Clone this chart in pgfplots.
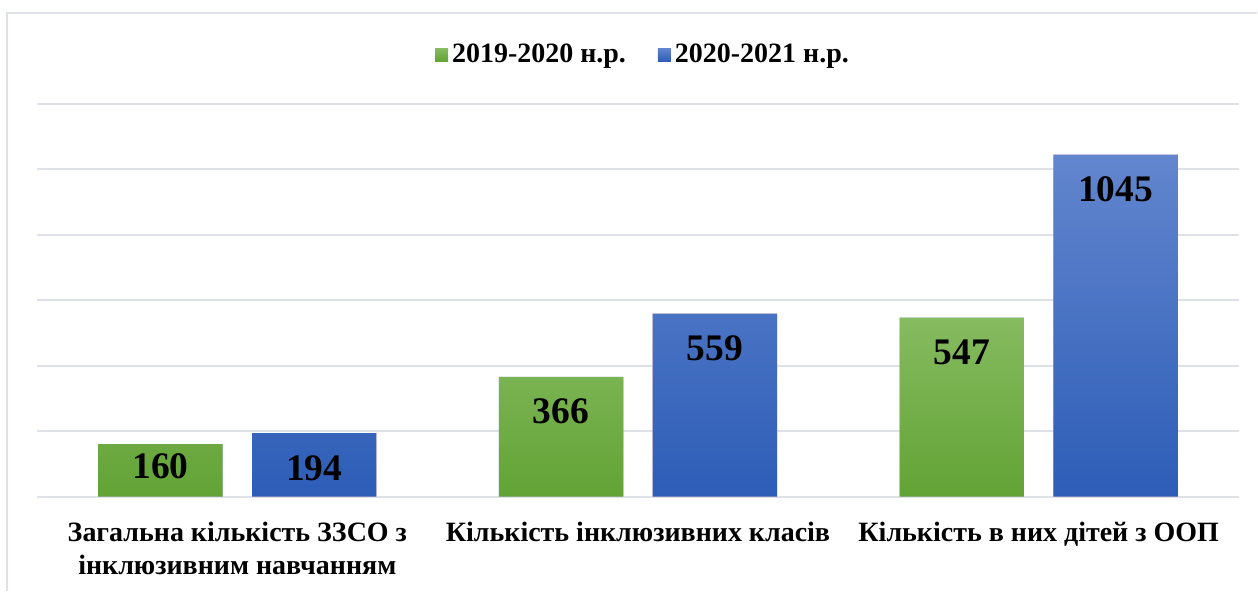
\documentclass[border=0pt]{standalone}
\usepackage{pgfplots}
\pgfplotsset{compat=1.18}
\usepackage{fontspec}
\setmainfont{Liberation Serif}

\definecolor{gtop}{RGB}{134,187,96}
\definecolor{gbot}{RGB}{98,163,53}
\definecolor{btop}{RGB}{98,134,206}
\definecolor{bbot}{RGB}{45,93,183}
\definecolor{gridc}{RGB}{222,226,232}

\begin{document}
\begin{tikzpicture}
\begin{axis}[
  scale only axis, width=601.5pt, height=196.5pt, clip=false,
  ybar, bar width=62.25pt,
  xmin=-0.5, xmax=2.5, ymin=0, ymax=1200,
  xtick={0,1,2},
  xticklabels={{Загальна кількість ЗЗСО з\\інклюзивним навчанням},
               {Кількість інклюзивних класів},
               {Кількість в них дітей з ООП}},
  xticklabel style={font=\bfseries\fontsize{14}{16.5}\selectfont,
                     align=center, yshift=-5pt},
  ytick={0,200,...,1200}, yticklabels={},
  ymajorgrids, major grid style={gridc, line width=1pt},
  axis line style={draw=none}, tick style={draw=none},
  nodes near coords,
  every node near coord/.append style={anchor=center, yshift=-17.5pt,
     font=\bfseries\fontsize{18.75}{20}\selectfont, text=black,
     /pgf/number format/1000 sep={}, /pgf/number format/assume math mode=true},
  legend style={at={(0.5,1)}, anchor=south, yshift=15pt, xshift=3pt,
     draw=none, fill=none, legend columns=2,
     font=\bfseries\fontsize{14}{16}\selectfont,
     /tikz/every even column/.append style={column sep=14pt}},
  legend image code/.code={\fill[#1] (0pt,-3.25pt) rectangle (6.5pt,3.25pt);},
]
\addplot+[bar shift=-38.5pt, draw=none, top color=gtop, bottom color=gbot,
  coordinate style/.condition={y<170}{yshift=6.5pt}]
  coordinates {(0,160) (1,366) (2,547)};
\addlegendentry{2019-2020 н.р.}
\addplot+[bar shift=38.5pt, draw=none, top color=btop, bottom color=bbot]
  coordinates {(0,194) (1,559) (2,1045)};
\addlegendentry{2020-2021 н.р.}
\draw[gridc, line width=1pt] (rel axis cs:-0.0249,-0.2417) -- (rel axis cs:-0.0249,1.2316)
  -- (rel axis cs:1.015,1.2316);
\path (rel axis cs:-0.0308,-0.2417) (rel axis cs:1.015,1.2646);
\end{axis}
\end{tikzpicture}
\end{document}
